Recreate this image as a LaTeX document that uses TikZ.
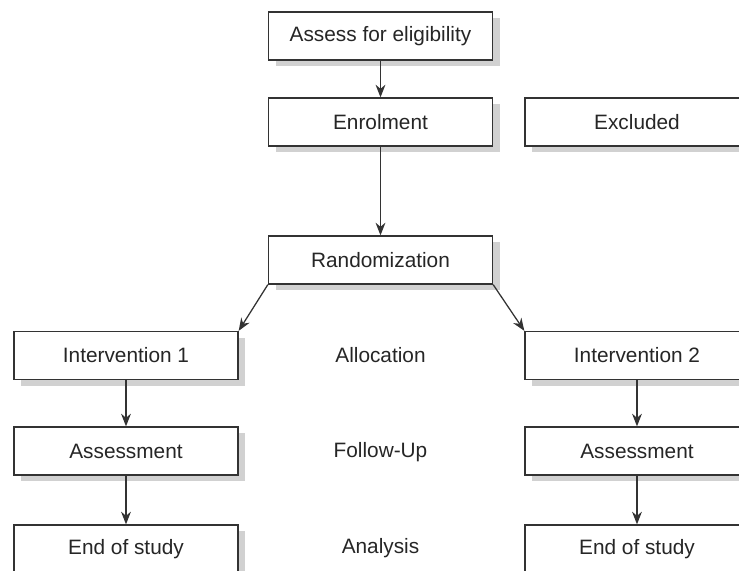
\documentclass[tikz,border=0pt]{standalone}
\usepackage{fontspec}
\setmainfont{Liberation Sans}
\usetikzlibrary{arrows.meta,shadows}

\begin{document}
\begin{tikzpicture}[x=0.025cm, y=-0.025cm,
        box/.style={draw=black!80, line width=0.9pt, fill=white, minimum width=5.6cm, minimum height=1.2cm,
            inner sep=0pt, font=\fontsize{14.8}{18}\selectfont, text=black!85,
            copy shadow={shadow xshift=0.18cm, shadow yshift=-0.16cm, fill=black!18, draw=none}},
        stage/.style={font=\fontsize{14.8}{18}\selectfont, text=black!85},
        arr/.style={draw=black!80, line width=0.9pt, -{Stealth[length=9pt, width=7pt]}}]
            \useasboundingbox (0,0) rectangle (739,571);
            \clip (0,0) rectangle (739,571);
            % top of the flow
            \node[box] (assess) at (380.5,36) {Assess for eligibility};
            \node[box] (enrol) at (380.5,122) {Enrolment};
            \node[box] (excluded) at (637,122) {Excluded};
            \node[box] (random) at (380.5,260) {Randomization};
            % the two arms
            \node[box] (int1) at (126,355.5) {Intervention 1};
            \node[box] (int2) at (637,355.5) {Intervention 2};
            \node[box] (asm1) at (126,451) {Assessment};
            \node[box] (asm2) at (637,451) {Assessment};
            \node[box] (end1) at (126,549) {End of study};
            \node[box] (end2) at (637,549) {End of study};
            \node[stage] (alloc) at (380.5,355.5) {Allocation};
            \node[stage] (follow) at (380.5,452) {Follow-Up};
            \node[stage] (analysis) at (380.5,548) {Analysis};
            \draw[arr] (assess) -- (enrol);
            \draw[arr] (enrol) -- (random);
            \draw[arr] (random.south west) -- (int1.north east);
            \draw[arr] (random.south east) -- (int2.north west);
            \draw[arr] (int1) -- (asm1);
            \draw[arr] (asm1) -- (end1);
            \draw[arr] (int2) -- (asm2);
            \draw[arr] (asm2) -- (end2);
        \end{tikzpicture}
\end{document}
